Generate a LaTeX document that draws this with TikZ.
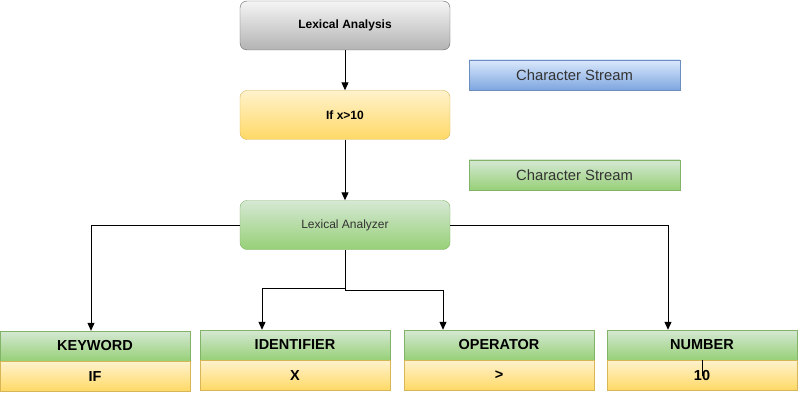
\documentclass[tikz,border=0pt]{standalone}
\usepackage{fontspec}
\setmainfont{Liberation Sans}
\usetikzlibrary{arrows.meta,positioning}
\definecolor{grayTop}{RGB}{245,245,245}
\definecolor{grayBot}{RGB}{179,179,179}
\definecolor{grayLine}{RGB}{102,102,102}
\definecolor{yellowTop}{RGB}{255,242,204}
\definecolor{yellowBot}{RGB}{255,217,102}
\definecolor{yellowLine}{RGB}{214,182,86}
\definecolor{greenTop}{RGB}{213,232,212}
\definecolor{greenBot}{RGB}{151,208,119}
\definecolor{greenLine}{RGB}{130,179,102}
\definecolor{blueTop}{RGB}{218,232,252}
\definecolor{blueBot}{RGB}{126,166,224}
\definecolor{blueLine}{RGB}{108,142,191}

\tikzset{
    stage/.style={rounded corners=7pt, minimum width=210pt, minimum height=49pt, font=\fontsize{12}{14}\selectfont},
    graystage/.style={stage, draw=grayLine, top color=grayTop, bottom color=grayBot},
    yellowstage/.style={stage, draw=yellowLine, top color=yellowTop, bottom color=yellowBot},
    greenstage/.style={stage, draw=greenLine, top color=greenTop, bottom color=greenBot, text=black!80},
    legend/.style={minimum width=211pt, minimum height=30pt, font=\fontsize{14.8}{17}\selectfont, text=black!80},
    tokhead/.style={draw=greenLine, top color=greenTop, bottom color=greenBot, minimum width=190pt, minimum height=30pt, font=\bfseries\fontsize{14.5}{17}\selectfont},
    tokval/.style={draw=yellowLine, top color=yellowTop, bottom color=yellowBot, minimum width=190pt, minimum height=30pt, font=\bfseries\fontsize{14.5}{17}\selectfont},
    flow/.style={-{Triangle[width=7pt,length=8pt]}, line width=1pt}
}

\begin{document}
\begin{tikzpicture}[x=1pt, y=-1pt]
    \useasboundingbox (0,0) rectangle (798,401);

    % pipeline
    \node[graystage, font=\bfseries\fontsize{12}{14}\selectfont] (lexana) at (345,25.5) {Lexical Analysis};
    \node[yellowstage, font=\bfseries\fontsize{12}{14}\selectfont] (source) at (345,115) {If x>10};
    \node[greenstage] (analyzer) at (345,225) {Lexical Analyzer};

    % legend
    \node[legend, draw=blueLine, top color=blueTop, bottom color=blueBot] (bluekey) at (574.5,75) {Character Stream};
    \node[legend, draw=greenLine, top color=greenTop, bottom color=greenBot] (greenkey) at (574.5,175) {Character Stream};

    % tokens
    \node[tokhead] (kwhead) at (95,346) {KEYWORD};
    \node[tokval, below=0pt of kwhead] (kwval) {IF};
    \node[tokhead] (idhead) at (295,345) {IDENTIFIER};
    \node[tokval, below=0pt of idhead] (idval) {X};
    \node[tokhead] (ophead) at (499,345) {OPERATOR};
    \node[tokval, below=0pt of ophead] (opval) {>};
    \node[tokhead] (numhead) at (702,345) {NUMBER};
    \node[tokval, below=0pt of numhead] (numval) {10};

    \draw[flow] (lexana) -- (source);
    \draw[flow] (source) -- (analyzer);
    \draw[flow] (analyzer.west) -| ([xshift=-4pt]kwhead.north);
    \draw[flow] (analyzer.east) -| ([xshift=-34pt]numhead.north);
    \path (analyzer.south) ++(0,39) coordinate (split);
    \draw[flow] (analyzer.south) -- (split) -| ([xshift=-33pt]idhead.north);
    \draw[flow] (split) -- ++(0,2) -| ([xshift=-56pt]ophead.north);
    \draw[line width=1pt] (numval.north) -- ++(0,16);
\end{tikzpicture}
\end{document}
